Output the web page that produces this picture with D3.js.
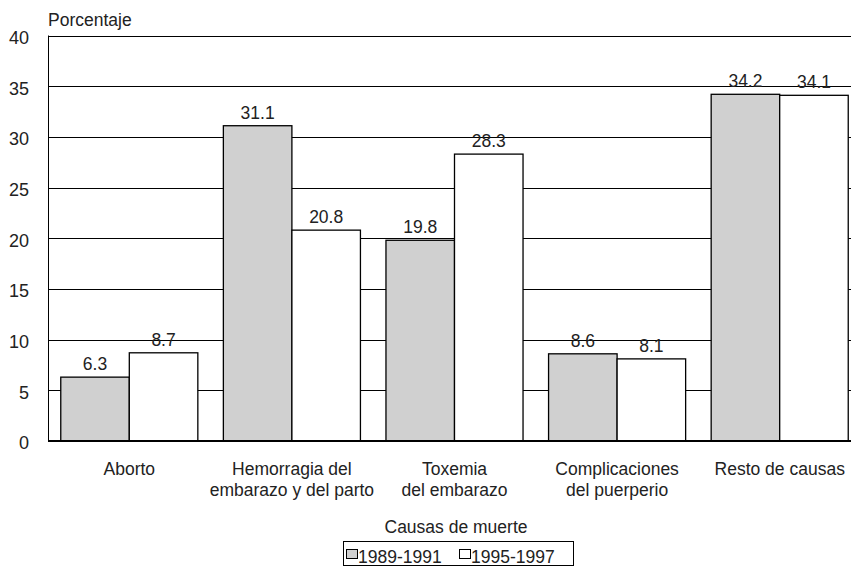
<!DOCTYPE html>
<html><head><meta charset="utf-8">
<script src="https://cdn.jsdelivr.net/npm/d3@7"></script>
<style>body{margin:0;background:#fff}svg{display:block}text{font-family:"Liberation Sans",Arial,sans-serif;fill:#222}</style>
</head><body><svg id="c" width="851" height="567"></svg>
<script>
const categories = [["Aborto"],["Hemorragia del","embarazo y del parto"],["Toxemia","del embarazo"],["Complicaciones","del puerperio"],["Resto de causas"]];
const seriesNames = ["1989-1991","1995-1997"];
const values1989 = [6.3,31.1,19.8,8.6,34.2];
const values1995 = [8.7,20.8,28.3,8.1,34.1];
const yTicks = [0,5,10,15,20,25,30,35,40];
const colors = ["#d0d0d0","#ffffff"];
const FS = "17.5px";

const svg = d3.select("#c");
const y = d3.scaleLinear().domain([0,40]).range([441,35.5]);
const x0 = d3.scaleBand().domain(d3.range(categories.length)).range([48,861]).paddingInner(0.157).paddingOuter(0.0785);
const x1 = d3.scaleBand().domain([0,1]).range([0,x0.bandwidth()]);

// gridlines
svg.append("g").selectAll("line").data(yTicks.filter(t=>t>0)).join("line")
  .attr("x1",48).attr("x2",851).attr("y1",d=>Math.round(y(d))+0.5).attr("y2",d=>Math.round(y(d))+0.5)
  .attr("stroke","#000").attr("stroke-width",1);
// y axis line
svg.append("line").attr("x1",48.5).attr("x2",48.5).attr("y1",y(40)).attr("y2",y(0)).attr("stroke","#000");
// tick labels
svg.append("g").selectAll("text").data(yTicks).join("text")
  .attr("x",29).attr("y",d=>y(d)+2).attr("dy","0.36em").attr("text-anchor","end")
  .style("font-size","18px").text(d=>d);
svg.append("text").attr("x",48).attr("y",26).style("font-size",FS).text("Porcentaje");

// bars
const data = categories.map((c,i)=>[values1989[i],values1995[i]]);
const groups = svg.append("g").selectAll("g").data(data).join("g")
  .attr("transform",(d,i)=>`translate(${x0(i)},0)`);
groups.selectAll("rect").data(d=>d).join("rect")
  .attr("x",(d,j)=>x1(j)).attr("y",d=>y(d)).attr("width",x1.bandwidth()).attr("height",d=>y(0)-y(d))
  .attr("fill",(d,j)=>colors[j]).attr("stroke","#000").attr("stroke-width",1.3);
groups.selectAll("text").data(d=>d).join("text")
  .attr("x",(d,j)=>x1(j)+x1.bandwidth()/2).attr("y",d=>y(d)-7).attr("text-anchor","middle")
  .style("font-size",FS).text(d=>d.toFixed(1));

// baseline
svg.append("line").attr("x1",48).attr("x2",851).attr("y1",y(0)).attr("y2",y(0)).attr("stroke","#000").attr("stroke-width",2);

// category labels
const cl = svg.append("g").selectAll("text").data(categories).join("text")
  .attr("text-anchor","middle").attr("transform",(d,i)=>`translate(${x0(i)+x0.bandwidth()/2},475)`)
  .style("font-size",FS);
cl.selectAll("tspan").data(d=>d).join("tspan").attr("x",0).attr("dy",(d,k)=>k?21:0).text(d=>d);

svg.append("text").attr("x",456).attr("y",533).attr("text-anchor","middle").style("font-size",FS).text("Causas de muerte");

// legend
const lg = svg.append("g");
lg.append("rect").attr("x",343.5).attr("y",541.5).attr("width",230).attr("height",24).attr("fill","#fff").attr("stroke","#000");
const li = lg.selectAll("g").data(seriesNames).join("g").attr("transform",(d,i)=>`translate(${[346,459][i]},0)`);
li.append("rect").attr("x",0.5).attr("y",549.5).attr("width",11).attr("height",9).attr("fill",(d,i)=>colors[i]).attr("stroke","#000");
li.append("text").attr("x",12).attr("y",563).style("font-size",FS).text(d=>d);
</script></body></html>
